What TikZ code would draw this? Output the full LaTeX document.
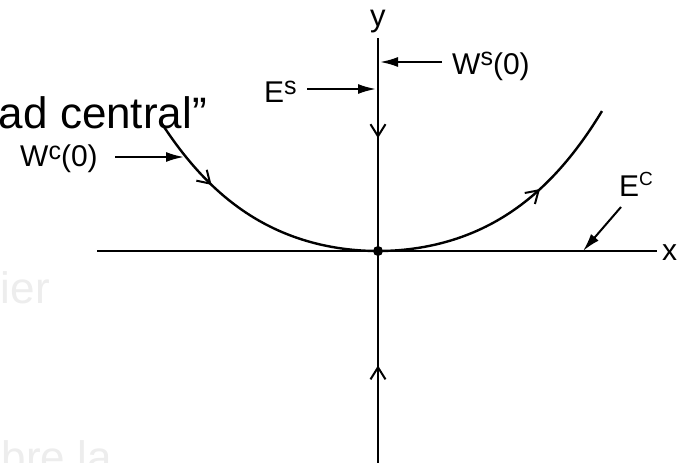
\documentclass[tikz,border=0pt]{standalone}
\usepackage{fontspec}
\setmainfont{Liberation Sans}
\usetikzlibrary{arrows.meta,decorations.markings}
\newcommand\supr[2][8pt]{\raisebox{#1}{\fontsize{25}{25}\selectfont #2}}
\begin{document}
\begin{tikzpicture}[x=1pt,y=-1pt,
  axis/.style={line width=2.6pt},
  curv/.style={line width=2.4pt},
  ptr/.style={line width=2pt,-{Latex[length=18pt,width=10pt]}},
  lbl/.style={inner sep=0pt,anchor=base west,font=\fontsize{30}{30}\selectfont},
  bigtxt/.style={inner sep=0pt,anchor=base east,font=\fontsize{44}{44}\selectfont},
  midarrow/.style={postaction={decorate},decoration={markings,
     mark=at position #1 with {\arrow[line width=2pt]{Straight Barb[length=12pt,width=15pt]}}}}
]
\useasboundingbox (0,0) rectangle (688,463);
\fill[white] (0,0) rectangle (688,463);

% faint background text
\node[bigtxt,text=black!7] (ier) at (50,303) {ier};
\node[bigtxt,text=black!7] (brela) at (112,472) {bre la};

% axes
\coordinate (xl) at (97,251);
\coordinate (xr) at (657,251);
\coordinate (yt) at (378,38);
\coordinate (yb) at (378,463);
\node[circle,fill,inner sep=0pt,minimum size=10pt] (O) at (378,251) {};
\draw[axis] (xl) -- (xr);
\draw[axis,midarrow=0.47] (yt) -- (O.center);
\draw[axis,midarrow=0.46] (yb) -- (O.center);

% centre manifold curve
\draw[curv,midarrow=0.31] plot[domain=-2.18:0,samples=80,variable=\u]
  ({378+100*\u},{251-(18.88*\u*\u+1.797*\u*\u*\u*\u)});
\draw[curv,midarrow=0.64] plot[domain=0:2.24,samples=80,variable=\u]
  ({378+100*\u},{251-(18.88*\u*\u+1.797*\u*\u*\u*\u)});

% labels
\node[lbl] (ylab) at (370,26) {\fontsize{31}{31}\selectfont y};
\node[lbl] (xlab) at (662,260) {x};
\node[lbl] (Ws) at (452,74) {W\supr[9pt]{s}(0)};
\node[lbl] (Es) at (264,102) {E\supr[8pt]{s}};
\node[lbl] (Wc) at (20,166) {W\supr[7pt]{c}(0)};
\node[lbl] (Ec) at (619,196) {E\supr[11pt]{\fontsize{19}{19}\selectfont C}};

% pointer arrows
\coordinate (WsA) at (442,62);  \coordinate (WsT) at (380,62);
\coordinate (EsA) at (307,89);  \coordinate (EsT) at (376,89);
\coordinate (WcA) at (115,157); \coordinate (WcT) at (184,157);
\coordinate (EcA) at (621,207); \coordinate (EcT) at (583,251);
\draw[ptr] (WsA) -- (WsT);
\draw[ptr] (EsA) -- (EsT);
\draw[ptr] (WcA) -- (WcT);
\draw[ptr] (EcA) -- (EcT);

% overlaid slide text
\node[bigtxt] (central) at (207,128) {ad central”};
\end{tikzpicture}
\end{document}
